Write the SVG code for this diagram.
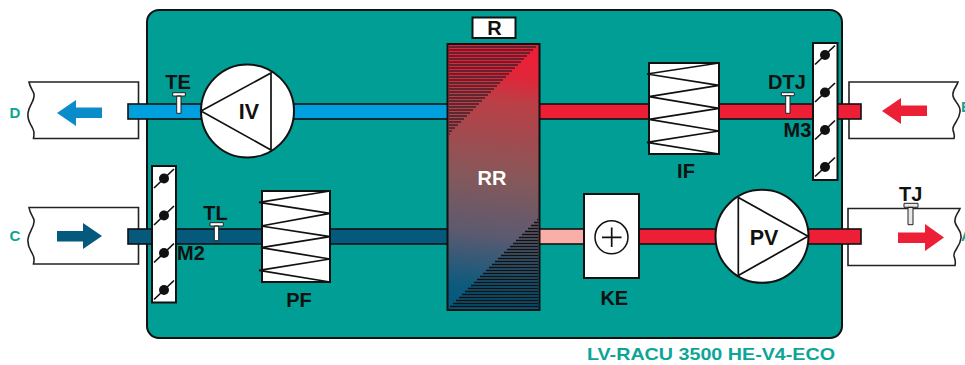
<svg xmlns="http://www.w3.org/2000/svg" width="965" height="365" viewBox="0 0 965 365">
<style>
text{font-family:"Liberation Sans",Arial,sans-serif;font-weight:700;fill:#111;font-size:20px;text-anchor:middle}
.t{fill:#0ca596;font-size:15px}
.w{fill:#fff;stroke:#111;stroke-width:2}
.d{fill:#fff;stroke:#222;stroke-width:1.6}
.p{stroke:#111;stroke-width:1.6}
.l{fill:none;stroke:#111;stroke-width:1.7}
.s{fill:#fff;stroke:#222;stroke-width:1}
.b{font-size:21.500px}
</style>
<defs>
<linearGradient id="g" gradientUnits="userSpaceOnUse" x1="505" y1="50" x2="478" y2="306">
<stop offset="0" stop-color="#ed1f37"/><stop offset="0.1" stop-color="#e0263a"/><stop offset="0.2" stop-color="#bb3f46"/><stop offset="0.5" stop-color="#85585a"/><stop offset="0.72" stop-color="#5c5a70"/><stop offset="0.92" stop-color="#0f5a7d"/><stop offset="1" stop-color="#04597d"/>
</linearGradient>
<g id="blade"><circle r="5" fill="#111"/><path d="M-10 9.500L10-9.500" class="l"/></g>
</defs>
<rect x="147" y="10" width="695" height="328" rx="12" fill="#009e94" stroke="#111" stroke-width="2"/>
<g id="duct-D">
<path d="M29 82H138.500V138.500H33.500C34 134 35 133 33 129C31 124 27 121 28 113C29 105 35 101 34 94C33 90 30 88 29 82Z" class="d"/>
<path d="M57 113L76 100V107.500H102V118H76V126Z" fill="#0a8ccb"/>
<text class="t" x="15" y="118">D</text>
</g>
<g id="duct-C">
<path d="M29 207.500H138.500V264H33.500C34 260 35 259 33 255C31 250 27 247 28 239C29 231 35 227 34 220C33 216 30 214 29 207.500Z" class="d"/>
<path d="M102 236L83 223V231H57V241.500H83V249Z" fill="#04597d"/>
<text class="t" x="15" y="241">C</text>
</g>
<g id="duct-E">
<path d="M849 82H958C956 88 952 90 953 96C954 102 961 104 960 112C959 122 952 124 953 130C954 134 955 135 954 138.500H849Z" class="d"/>
<path d="M882 111L901 98V105.500H927V116H901V124Z" fill="#ed1f37"/>
<text class="t" x="961" y="112" style="text-anchor:start">E</text>
</g>
<g id="duct-A">
<path d="M848 208.500H960C958 214 954 216 955 222C956 228 962 230 961 238C960 248 953 250 954 256C955 260 956 261 955 265.500H848Z" class="d"/>
<path d="M944 237.500L925 224V232.500H898V243H925V251Z" fill="#ed1f37"/>
<text class="t" x="961" y="241" style="text-anchor:start">A</text>
</g>
<g id="connectors">
<rect x="128" y="104" width="320" height="15" fill="#00a0df" class="p"/>
<rect x="128" y="229" width="320" height="15" fill="#04597d" class="p"/>
<rect x="539" y="104" width="322" height="15" fill="#ed1f37" class="p"/>
<rect x="539" y="229" width="46" height="15" fill="#f9aea8" class="p"/>
<rect x="639" y="229" width="222" height="15" fill="#ed1f37" class="p"/>
</g>
<g id="R"><rect x="472.500" y="17.500" width="43" height="20.500" class="w"/><text x="494.500" y="35">R</text></g>
<g id="RR">
<rect x="447.500" y="44" width="92" height="266" fill="url(#g)" stroke="#111" stroke-width="2"/>
<path id="hatch-top" d="M449 47H536M449 50H533M449 53H530M449 56H527M449 59H524M449 62H521M449 65H518M449 68H515M449 71H512M449 74H509M449 77H506M449 80H503M449 83H500M449 86H497M449 89H494M449 92H491M449 95H488M449 98H485M449 101H482M449 104H479M449 107H476M449 110H473M449 113H470M449 116H467M449 119H464M449 122H461M449 125H458M449 128H455M449 131H452M449 134H450" stroke="#40202a" stroke-width="1.3"/>
<path id="hatch-bottom" d="M538 306.500H450M538 303.500H453M538 300.500H456M538 297.500H459M538 294.500H462M538 291.500H465M538 288.500H468M538 285.500H471M538 282.500H474M538 279.500H477M538 276.500H480M538 273.500H483M538 270.500H486M538 267.500H489M538 264.500H492M538 261.500H495M538 258.500H498M538 255.500H501M538 252.500H504M538 249.500H507M538 246.500H510M538 243.500H513M538 240.500H516M538 237.500H519M538 234.500H522M538 231.500H525M538 228.500H528M538 225.500H531M538 222.500H534M538 219.500H537" stroke="#111" stroke-width="1.3"/>
<text x="492" y="185" style="fill:#fff">RR</text>
</g>
<g id="IV">
<circle cx="247.500" cy="111" r="46.500" class="w"/>
<path d="M201 111L271 73V150Z" class="l"/>
<text class="b" x="249" y="119">IV</text>
</g>
<g id="PV">
<circle cx="762" cy="236.300" r="46.500" class="w"/>
<path d="M738.300 197.500V275.500L808 236.300Z" class="l"/>
<text class="b" x="764" y="244.500">PV</text>
</g>
<g id="IF">
<rect x="649" y="63" width="70" height="91" class="w"/>
<path d="M719 63L647 74L719 85.300L649 96.700L719 108.300L649 119.300L719 131L647 142.300L719 154" class="l"/>
<text x="686" y="177.500">IF</text>
</g>
<g id="PF">
<rect x="262" y="191" width="68" height="91" class="w"/>
<path d="M330 191L259 202.300L330 213.300L261 226L330 236.700L261 247.700L330 259L259 270.300L330 282" class="l"/>
<text x="299" y="306.500">PF</text>
</g>
<g id="KE">
<rect x="584" y="194" width="55" height="84" class="w"/>
<circle cx="611.500" cy="237.300" r="16.500" fill="none" stroke="#111" stroke-width="1.500"/>
<path d="M602 237.300H621.500M611.700 227.500V247" class="l"/>
<text x="614.300" y="305">KE</text>
</g>
<g id="M2">
<rect x="152" y="166" width="24" height="136.500" class="w"/>
<use href="#blade" x="164" y="178.500"/><use href="#blade" x="164" y="215.500"/><use href="#blade" x="164" y="253"/><use href="#blade" x="164" y="290"/>
<text x="191" y="260">M2</text>
</g>
<g id="M3">
<rect x="813" y="43" width="24.500" height="137" class="w"/>
<use href="#blade" x="825" y="55"/><use href="#blade" x="825" y="92.500"/><use href="#blade" x="825" y="130"/><use href="#blade" x="825" y="167"/>
<text x="797.500" y="136.500">M3</text>
</g>
<g id="TE"><path d="M176.700 96H181V113.300H176.700ZM172.700 92.700H185.300V96H172.700Z" class="s"/><text x="178" y="89">TE</text></g>
<g id="TL"><path d="M214.300 226H218.700V240.700H214.300ZM210 222.700H223.300V226H210Z" class="s"/><text x="215.500" y="220">TL</text></g>
<g id="DTJ"><path d="M785.700 95.700H790V113.300H785.700ZM781.300 92.700H794.300V95.700H781.300Z" class="s"/><text x="787" y="89.300">DTJ</text></g>
<g id="TJ"><path d="M908 207.300H913V224.700H908ZM904 203.300H918V207.300H904Z" fill="#e8e8e8" stroke="#222"/><text x="910.700" y="200.700">TJ</text></g>
<text class="t" x="587" y="360" textLength="248" lengthAdjust="spacingAndGlyphs" style="font-size:17px;text-anchor:start">LV-RACU 3500 HE-V4-ECO</text>
</svg>
